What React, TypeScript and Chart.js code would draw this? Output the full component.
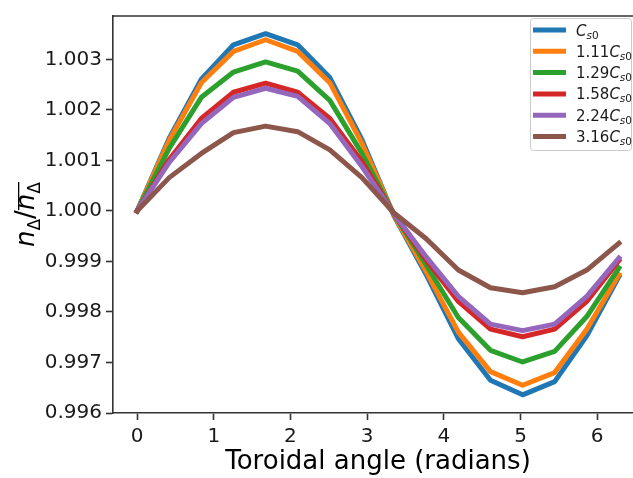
import { useEffect, useRef } from 'react';
import { Chart, registerables } from 'chart.js';

Chart.register(...registerables);

// toroidal angle samples (radians)
const angles = [0, 0.419, 0.838, 1.257, 1.676, 2.094, 2.513, 2.932, 3.351, 3.770, 4.189, 4.608, 5.027, 5.445, 5.864, 6.283];

// normalised density n_Δ / mean(n_Δ) for each sound speed
const densCs0 = [1.0, 1.00144, 1.00261, 1.00329, 1.00351, 1.00329, 1.00264, 1.00141, 0.9999, 0.99874, 0.99747, 0.99665, 0.99636, 0.99662, 0.99753, 0.9987];
const dens111 = [1.0, 1.0014, 1.00254, 1.00316, 1.00339, 1.00316, 1.00254, 1.00134, 0.99991, 0.9988, 0.9976, 0.99682, 0.99655, 0.9968, 0.99766, 0.99874];
const dens129 = [1.0, 1.00124, 1.00225, 1.00275, 1.00295, 1.00277, 1.00219, 1.00114, 0.99993, 0.99893, 0.99789, 0.99724, 0.99701, 0.99722, 0.99791, 0.99887];
const dens158 = [1.0, 1.00102, 1.00183, 1.00235, 1.00253, 1.00235, 1.00183, 1.00098, 0.99994, 0.99903, 0.99821, 0.99766, 0.99751, 0.99766, 0.99821, 0.99902];
const dens224 = [1.0, 1.00096, 1.00173, 1.00225, 1.00243, 1.00227, 1.00173, 1.00088, 0.99994, 0.99909, 0.99831, 0.99776, 0.99763, 0.99776, 0.99831, 0.99907];
const dens316 = [1.0, 1.00066, 1.00114, 1.00155, 1.00168, 1.00157, 1.00121, 1.00066, 0.99996, 0.99945, 0.99883, 0.99848, 0.99838, 0.9985, 0.99883, 0.99936];

const seriesValues = [densCs0, dens111, dens129, dens158, dens224, dens316];
// legend prefix before C_s0
const seriesFactors = ['', '1.11', '1.29', '1.58', '2.24', '3.16'];
const seriesColors = ['#1f77b4', '#ff7f0e', '#2ca02c', '#d62728', '#9467bd', '#8c564b'];

const xTicks = [0, 1, 2, 3, 4, 5, 6];
const yTicks = [0.996, 0.997, 0.998, 0.999, 1.0, 1.001, 1.002, 1.003];
const yTickLabels = ['0.996', '0.997', '0.998', '0.999', '1.000', '1.001', '1.002', '1.003'];

const FONT = '"DejaVu Sans"';
const axisColor = '#333333';
const textColor = '#1a1a1a';

// top/right spines like matplotlib
const framePlugin = {
  id: 'frame',
  afterDatasetsDraw(chart: any) {
    const { ctx, chartArea } = chart;
    ctx.save();
    ctx.strokeStyle = axisColor;
    ctx.lineWidth = 1.6;
    ctx.beginPath();
    ctx.moveTo(chartArea.left, chartArea.top);
    ctx.lineTo(chartArea.right, chartArea.top);
    ctx.lineTo(chartArea.right, chartArea.bottom);
    ctx.stroke();
    ctx.restore();
  }
};

// legend with C_s0 subscripts and the rotated y label
const mathTextPlugin = {
  id: 'mathText',
  afterDraw(chart: any) {
    const ctx = chart.ctx;
    ctx.save();

    // legend box
    ctx.beginPath();
    ctx.roundRect(530.5, 18.5, 101, 132, 3);
    ctx.fillStyle = 'rgba(255,255,255,0.8)';
    ctx.fill();
    ctx.strokeStyle = '#cccccc';
    ctx.lineWidth = 1;
    ctx.stroke();

    seriesFactors.forEach((f, i) => {
      const y = 30 + i * 21.3;
      ctx.strokeStyle = seriesColors[i];
      ctx.lineWidth = 5;
      ctx.lineCap = 'butt';
      ctx.beginPath();
      ctx.moveTo(533, y);
      ctx.lineTo(566, y);
      ctx.stroke();

      const base = y + 5.5;
      let x = 576;
      ctx.fillStyle = textColor;
      ctx.textBaseline = 'alphabetic';
      ctx.textAlign = 'left';
      if (f) {
        ctx.font = `15px ${FONT}`;
        ctx.fillText(f, x, base);
        x += ctx.measureText(f).width;
      }
      ctx.font = `italic 15px ${FONT}`;
      ctx.fillText('C', x, base);
      x += ctx.measureText('C').width;
      ctx.font = `italic 10.5px ${FONT}`;
      ctx.fillText('s', x, base + 3);
      x += ctx.measureText('s').width;
      ctx.font = `10.5px ${FONT}`;
      ctx.fillText('0', x, base + 3);
    });

    // y axis label: n_Δ / overline(n_Δ)
    ctx.translate(34, 247);
    ctx.rotate(-Math.PI / 2);
    ctx.fillStyle = '#000';
    ctx.textBaseline = 'alphabetic';
    ctx.textAlign = 'left';
    let u = 0;
    ctx.font = `italic 26px ${FONT}`;
    ctx.fillText('n', u, 0);
    u += ctx.measureText('n').width;
    ctx.font = `17px ${FONT}`;
    ctx.fillText('Δ', u, 6);
    u += ctx.measureText('Δ').width;
    ctx.font = `26px ${FONT}`;
    ctx.fillText('/', u, 0);
    u += ctx.measureText('/').width;
    const ovStart = u;
    ctx.font = `italic 26px ${FONT}`;
    ctx.fillText('n', u, 0);
    u += ctx.measureText('n').width;
    ctx.font = `17px ${FONT}`;
    ctx.fillText('Δ', u, 6);
    u += ctx.measureText('Δ').width;
    ctx.fillRect(ovStart, -16, u - ovStart, 1.3);

    ctx.restore();
  }
};

export default function App() {
  const canvasRef = useRef<HTMLCanvasElement | null>(null);
  const chartInstance = useRef<Chart | null>(null);

  useEffect(() => {
    if (!canvasRef.current) return;

    if (chartInstance.current) {
      chartInstance.current.destroy();
      chartInstance.current = null;
    }

    const datasets: any[] = seriesValues.map((vals, i) => ({
      label: `${seriesFactors[i]}C_s0`,
      data: vals.map((v, k) => ({ x: angles[k], y: v })),
      borderColor: seriesColors[i],
      backgroundColor: seriesColors[i],
      borderWidth: 5,
      borderJoinStyle: 'round',
      borderCapStyle: 'square',
      pointRadius: 0,
      tension: 0,
      fill: false,
      order: seriesValues.length - i
    }));

    chartInstance.current = new Chart(canvasRef.current, {
      type: 'line',
      data: { datasets },
      plugins: [framePlugin, mathTextPlugin],
      options: {
        animation: false,
        responsive: true,
        maintainAspectRatio: false,
        layout: { padding: { top: 11, right: 7, left: 0, bottom: 0 } },
        plugins: {
          legend: { display: false },
          tooltip: { enabled: false }
        },
        scales: {
          x: {
            type: 'linear',
            min: -0.314,
            max: 6.597,
            afterBuildTicks: (s: any) => { s.ticks = xTicks.map(v => ({ value: v })); },
            afterFit: (s: any) => { s.height = 65; },
            grid: { drawOnChartArea: false, tickLength: 7, tickWidth: 1.6, tickColor: axisColor },
            border: { display: true, color: axisColor, width: 1.6 },
            ticks: {
              color: textColor,
              font: { family: FONT, size: 20 },
              padding: 5,
              maxRotation: 0,
              autoSkip: false,
              callback: (v: any) => String(v)
            },
            title: {
              display: true,
              text: 'Toroidal angle (radians)',
              color: '#000',
              font: { family: FONT, size: 26 },
              padding: { top: 0, bottom: 0 }
            }
          },
          y: {
            type: 'linear',
            min: 0.996,
            max: 1.00386,
            afterBuildTicks: (s: any) => { s.ticks = yTicks.map(v => ({ value: v })); },
            afterFit: (s: any) => { s.width = 113; },
            grid: { drawOnChartArea: false, tickLength: 7, tickWidth: 1.6, tickColor: axisColor },
            border: { display: true, color: axisColor, width: 1.6 },
            ticks: {
              color: textColor,
              font: { family: FONT, size: 20 },
              padding: 4,
              autoSkip: false,
              callback: (_v: any, idx: number) => yTickLabels[idx]
            }
          }
        }
      }
    });

    return () => {
      if (chartInstance.current) {
        chartInstance.current.destroy();
        chartInstance.current = null;
      }
    };
  }, []);

  return (
    <div style={{ position: 'fixed', left: 0, top: 0, width: 633, height: 478, overflow: 'hidden', background: '#fff' }}>
      <div style={{ position: 'relative', width: 650, height: 478 }}>
        <canvas ref={canvasRef} />
      </div>
    </div>
  );
}
